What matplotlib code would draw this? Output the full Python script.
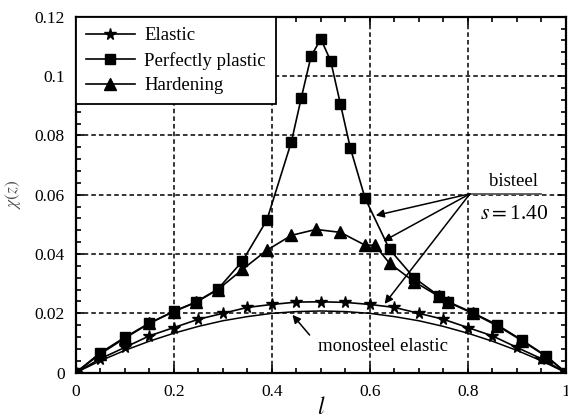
import matplotlib
matplotlib.use("Agg")
import matplotlib.pyplot as plt
from matplotlib.ticker import MultipleLocator

plt.rcParams['font.family'] = ['Liberation Serif', 'DejaVu Serif']
plt.rcParams['mathtext.fontset'] = 'stix'

# Perfectly plastic
x_pp = [0, 0.05, 0.10, 0.15, 0.20, 0.245, 0.29, 0.34, 0.39, 0.44, 0.46, 0.48, 0.50,
        0.52, 0.54, 0.56, 0.59, 0.64, 0.69, 0.74, 0.76, 0.81, 0.86, 0.91, 0.96, 1.0]
y_pp = [0, 0.0067, 0.0119, 0.0167, 0.0207, 0.0238, 0.0282, 0.0376, 0.0515, 0.0779,
        0.0926, 0.1067, 0.1125, 0.1051, 0.0905, 0.0758, 0.0589, 0.0416, 0.0320,
        0.0260, 0.0239, 0.0202, 0.0161, 0.0110, 0.0056, 0]

# Hardening
x_hd = [0, 0.05, 0.10, 0.15, 0.20, 0.245, 0.29, 0.34, 0.39, 0.44, 0.49, 0.54, 0.59,
        0.61, 0.64, 0.69, 0.74, 0.76, 0.81, 0.86, 0.91, 0.96, 1.0]
y_hd = [0, 0.0063, 0.0116, 0.0166, 0.0206, 0.0237, 0.0280, 0.0348, 0.0413, 0.0463,
        0.0483, 0.0473, 0.0430, 0.0430, 0.0369, 0.0307, 0.0258, 0.0237, 0.0200,
        0.0158, 0.0108, 0.0054, 0]

# Elastic
x_el = [0, 0.05, 0.10, 0.15, 0.20, 0.25, 0.30, 0.35, 0.40, 0.45, 0.50, 0.55, 0.60,
        0.65, 0.70, 0.75, 0.80, 0.85, 0.90, 0.95, 1.0]
y_el = [0, 0.0047, 0.0085, 0.0124, 0.0152, 0.0180, 0.0200, 0.0220, 0.0230, 0.0238,
        0.0239, 0.0237, 0.0230, 0.0220, 0.0200, 0.0180, 0.0152, 0.0124, 0.0085,
        0.0047, 0]

# Monosteel elastic (smooth curve)
x_mono = [0, 0.05, 0.10, 0.15, 0.20, 0.25, 0.30, 0.35, 0.40, 0.45, 0.50, 0.55, 0.60,
          0.65, 0.70, 0.75, 0.80, 0.85, 0.90, 0.95, 1.0]
y_mono = [0, 0.0040, 0.0075, 0.0106, 0.0133, 0.0156, 0.0175, 0.0189, 0.0200, 0.0206,
          0.0208, 0.0206, 0.0200, 0.0189, 0.0175, 0.0156, 0.0133, 0.0106, 0.0075,
          0.0040, 0]

labels = ["Elastic", "Perfectly plastic", "Hardening"]
x_ticks = [0, 0.2, 0.4, 0.6, 0.8, 1]
x_ticklabels = ["0", "0.2", "0.4", "0.6", "0.8", "1"]
y_ticks = [0, 0.02, 0.04, 0.06, 0.08, 0.1, 0.12]
y_ticklabels = ["0", "0.02", "0.04", "0.06", "0.08", "0.1", "0.12"]

fig = plt.figure(figsize=(5.68, 4.18), dpi=100)
ax = fig.add_axes([0.1333, 0.1084, 0.8632, 0.8516])

ax.plot(x_mono, y_mono, color='black', lw=1.1, zorder=3)
l1, = ax.plot(x_el, y_el, color='black', lw=1.2, marker='*', ms=8.5, zorder=4, label=labels[0])
l2, = ax.plot(x_pp, y_pp, color='black', lw=1.2, marker='s', ms=7, zorder=4, label=labels[1])
l3, = ax.plot(x_hd, y_hd, color='black', lw=1.2, marker='^', ms=8, zorder=4, label=labels[2])

ax.set_xlim(0, 1)
ax.set_ylim(0, 0.12)
ax.set_xticks(x_ticks)
ax.set_xticklabels(x_ticklabels)
ax.set_yticks(y_ticks)
ax.set_yticklabels(y_ticklabels)
ax.xaxis.set_minor_locator(MultipleLocator(0.05))
ax.yaxis.set_minor_locator(MultipleLocator(0.004))
ax.tick_params(which='both', direction='in', top=True, right=True, labelsize=12.5, width=1.2)
ax.tick_params(which='major', length=6, pad=8)
ax.tick_params(which='minor', length=3.5)
for s in ax.spines.values():
    s.set_linewidth(1.6)

ax.grid(True, which='major', color='black', ls=(0, (3, 2)), lw=1.1, zorder=1)

leg = ax.legend(handles=[l1, l2, l3], loc='upper left', borderaxespad=0, fontsize=13.5,
                frameon=True, fancybox=False, handlelength=2.6, labelspacing=0.4,
                borderpad=0.55, handletextpad=0.5)
leg.get_frame().set_edgecolor('black')
leg.get_frame().set_linewidth(1.3)
leg.get_frame().set_alpha(1)
leg.set_zorder(10)

ax.set_xlabel(r"$l$", fontsize=17, labelpad=-2)
ax.set_ylabel(r"$\chi(z)$", fontsize=12.5, color='#555555', labelpad=8)

# Annotations
ax.text(0.893, 0.0615, "bisteel", fontsize=13.5, ha='center', va='bottom')
ax.plot([0.806, 0.95], [0.0604, 0.0604], color='#555555', lw=1.3, clip_on=False, zorder=5)
ax.text(0.894, 0.0532, r"$s = $1.40", fontsize=15.5, ha='center', va='center')

arrow_kw = dict(arrowstyle='-|>', color='black', lw=1.1, mutation_scale=12, shrinkA=0, shrinkB=0)
origin = (0.804, 0.0603)
for tgt in [(0.612, 0.0530), (0.627, 0.0443), (0.630, 0.0232)]:
    ax.annotate("", xy=tgt, xytext=origin, arrowprops=arrow_kw, zorder=6)

ax.annotate("", xy=(0.442, 0.0195), xytext=(0.477, 0.0127), arrowprops=arrow_kw, zorder=6)
ax.text(0.627, 0.0087, "monosteel elastic", fontsize=13.5, ha='center', va='center')

fig.savefig("out.png", dpi=100)
